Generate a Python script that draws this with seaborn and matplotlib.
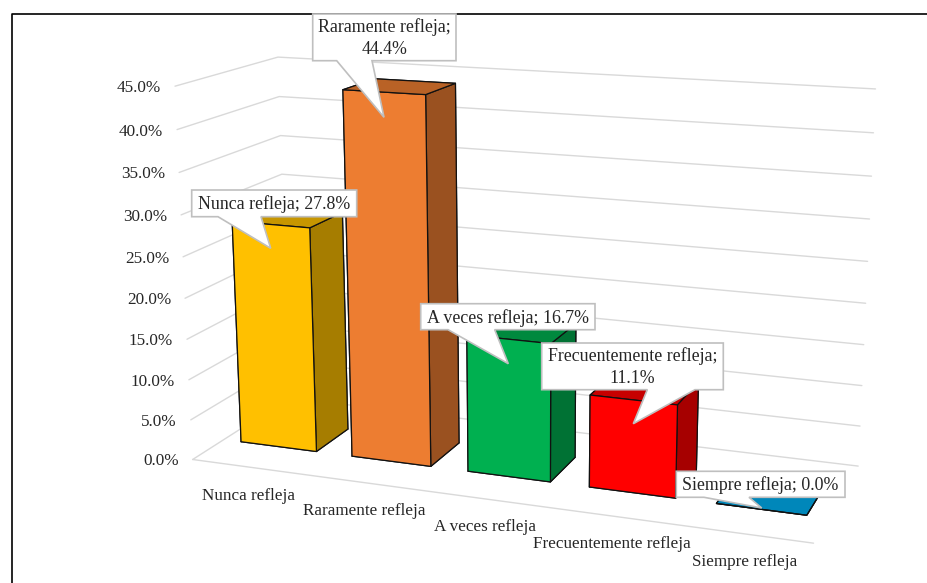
import numpy as np
import matplotlib
matplotlib.use("Agg")
import matplotlib.pyplot as plt
import seaborn as sns
from matplotlib.patches import Polygon
from matplotlib.lines import Line2D
from matplotlib.transforms import Affine2D
from mpl_toolkits.mplot3d import proj3d

categories = ["Nunca refleja", "Raramente refleja", "A veces refleja",
              "Frecuentemente refleja", "Siempre refleja"]
values = [27.8, 44.4, 16.7, 11.1, 0.0]
ticks = [0, 5, 10, 15, 20, 25, 30, 35, 40, 45]
front_colors = ["#FFC000", "#ED7D31", "#00B050", "#FF0000", "#00ADEF"]

sns.set_theme(style="white")
plt.rcParams['font.family'] = ['Liberation Serif', 'DejaVu Sans']
palette = sns.color_palette(front_colors)

W, H = 928, 583
S = 900
GRID = '#D9D9D9'
INK = '#262626'
FS = 12.3
FS_LABEL = 12.9

fig = plt.figure(figsize=(W/100, H/100), dpi=100, facecolor='white')
ax = fig.add_axes([(W/2-S/2+47.32)/W, (H/2-S/2-0.63)/H, S/W, S/H],
                  projection='3d', computed_zorder=False)
ax.set_xlim(0, 5, view_margin=0)
ax.set_ylim(0, 1, view_margin=0)
ax.set_zlim(0, 45, view_margin=0)
ax.view_init(elev=14.6234, azim=-69.6576, roll=0.0532)
ax.set_proj_type('persp', focal_length=0.3925)
ax.set_box_aspect((1, 0.3355, 0.5986), zoom=0.8469)
ax.set_axis_off()
ax.patch.set_visible(False)
ax.apply_aspect()

DEPTH0, DEPTH1, GAP = 0.3035, 0.6539, 0.1581

for z in ticks:
    ax.plot([0, 0, 5], [0, 1, 1], [z, z, z], color=GRID, lw=1, zorder=0, clip_on=False)
ax.plot([0, 5], [0, 0], [0, 0], color=GRID, lw=1, zorder=0, clip_on=False)

for i, v in enumerate(values):
    c = np.array(palette[i])
    # faces: bottom, top, front, back, left, right
    faces = [tuple(c*.78), tuple(c*.78), tuple(c), tuple(c), tuple(c), tuple(c*.65)]
    ax.bar3d(i+GAP, DEPTH0, 0, 1-2*GAP, DEPTH1-DEPTH0, v, color=faces, shade=False,
             edgecolor='#111111', linewidth=0.9, zorder=i+1)

pix = Affine2D().scale(1, -1).translate(0, H)
M = ax.get_proj()
def to_pix(x, y, z):
    a, b, _ = proj3d.proj_transform(x, y, z, M)
    dx, dy = ax.transData.transform((a, b))
    return dx, H-dy

for z in ticks:
    px, py = to_pix(0, 0, z)
    fig.text(px-14, py+2, f"{z:.1f}%", transform=pix, ha='right', va='center',
             fontsize=FS, color=INK)

for i, cat in enumerate(categories):
    px, py = to_pix(i+.5, 0, 0)
    fig.text(px, py+28.5, cat, transform=pix, ha='center', va='center',
             fontsize=FS, color=INK)

# callout geometry in pixels: box l, t, r, b, tail base l, r, tip x, y
callouts = [
    (191.7, 190, 356.7, 216.7, 218, 261, 270.7, 248.3, False),
    (312.7, 14, 456, 60.7, 336.7, 372, 384, 117.3, True),
    (420.7, 303.7, 595, 329.7, 448, 494.7, 508.3, 363.7, False),
    (541.7, 343, 723.3, 389.7, 647.3, 695, 633.3, 423.7, True),
    (676.3, 471.3, 845, 497.3, 704, 749, 761.7, 508, False),
]
for cat, v, (l, t, r, b, bl, br, tx, ty, wrap) in zip(categories, values, callouts):
    pts = [(l, t), (r, t), (r, b), (br, b), (tx, ty), (bl, b), (l, b)]
    fig.add_artist(Polygon(pts, closed=True, transform=pix, facecolor='white',
                           edgecolor='#BFBFBF', lw=1.2, zorder=5, joinstyle='miter'))
    sep = "\n" if wrap else " "
    fig.text((l+r)/2, (t+b)/2+1, f"{cat};{sep}{v:.1f}%", transform=pix, ha='center',
             va='center', ma='center', fontsize=FS_LABEL, color=INK, linespacing=1.4, zorder=6)

fig.add_artist(Line2D([12, 12, W], [H, 14, 14], transform=pix, color='black', lw=1.2, zorder=4))
fig.savefig("out.png", dpi=100)
